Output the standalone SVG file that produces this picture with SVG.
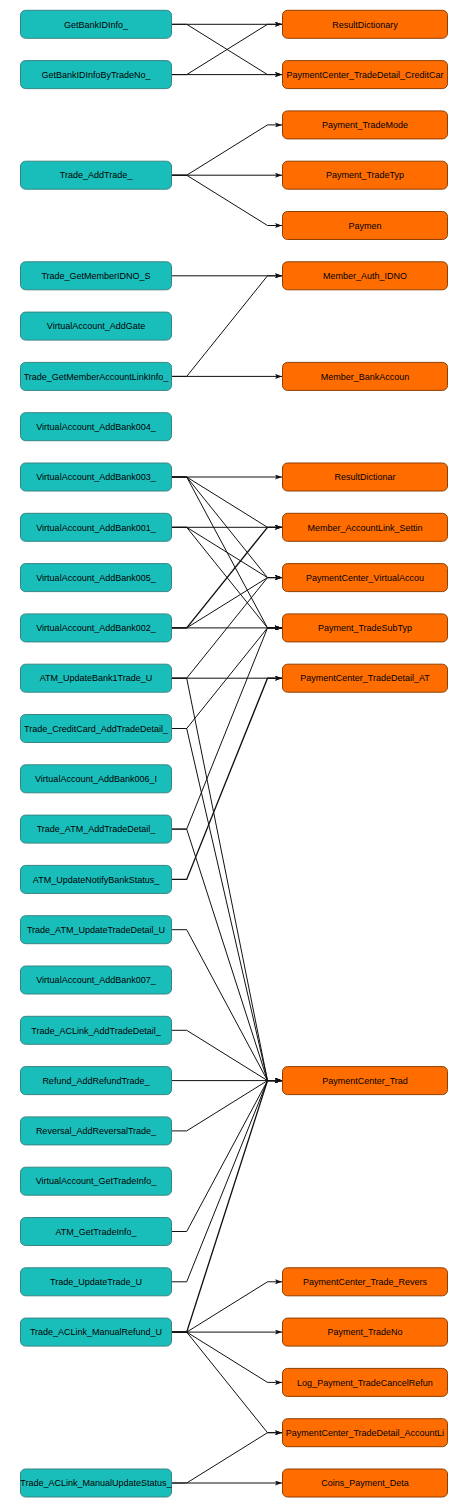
<svg xmlns="http://www.w3.org/2000/svg" width="470" height="1508" viewBox="0 0 470 1508">
<style>
.src rect{fill:#19bebb;stroke:#3a8583;stroke-width:1}
.dst rect{fill:#ff6d00;stroke:#8f3f00;stroke-width:1}
text{font-family:"Liberation Sans",Arial,sans-serif;font-size:9px;fill:#000;text-anchor:middle}
#edges path{fill:none;stroke:#111;stroke-width:1;marker-end:url(#arr)}
#edges path.thick{stroke-width:1.35}
</style>
<defs>
<marker id="arr" markerUnits="userSpaceOnUse" viewBox="0 0 7 5" refX="7" refY="2.5" markerWidth="7" markerHeight="5" orient="auto">
<path d="M0,0 L7,2.5 L0,5 L1.5,2.5 z" fill="#111"/>
</marker>
</defs>
<rect width="470" height="1508" fill="#fff"/>
<g id="edges">
<path d="M171.5,24.3 H282"/>
<path d="M171.5,24.3 H186.7 L267.5,74.6 H282"/>
<path d="M171.5,74.6 H186.7 L267.5,24.3 H282"/>
<path d="M171.5,74.6 H282"/>
<path d="M171.5,175.2 H186.7 L267.5,124.9 H282"/>
<path d="M171.5,175.2 H282"/>
<path d="M171.5,175.2 H186.7 L267.5,225.5 H282"/>
<path d="M171.5,275.8 H282"/>
<path d="M171.5,376.4 H186.7 L267.5,275.8 H282"/>
<path d="M171.5,376.4 H282"/>
<path d="M171.5,477 H282"/>
<path d="M171.5,477 H186.7 L267.5,527.3 H282"/>
<path d="M171.5,477 H186.7 L267.5,577.6 H282"/>
<path d="M171.5,477 H186.7 L267.5,627.9 H282"/>
<path d="M171.5,527.3 H282"/>
<path d="M171.5,527.3 H186.7 L267.5,577.6 H282"/>
<path d="M171.5,527.3 H186.7 L267.5,627.9 H282"/>
<path d="M171.5,627.9 H282"/>
<path class="thick" d="M171.5,627.9 H186.7 L267.5,527.3 H282"/>
<path d="M171.5,627.9 H186.7 L267.5,577.6 H282"/>
<path d="M171.5,678.2 H282"/>
<path d="M171.5,678.2 H186.7 L267.5,577.6 H282"/>
<path d="M171.5,678.2 H186.7 L267.5,1080.6 H282"/>
<path d="M171.5,728.5 H186.7 L267.5,627.9 H282"/>
<path d="M171.5,728.5 H186.7 L267.5,1080.6 H282"/>
<path d="M171.5,829.1 H186.7 L267.5,627.9 H282"/>
<path d="M171.5,829.1 H186.7 L267.5,1080.6 H282"/>
<path class="thick" d="M171.5,879.4 H186.7 L267.5,678.2 H282"/>
<path d="M171.5,929.7 H186.7 L267.5,1080.6 H282"/>
<path d="M171.5,1030.3 H186.7 L267.5,1080.6 H282"/>
<path d="M171.5,1080.6 H282"/>
<path d="M171.5,1130.9 H186.7 L267.5,1080.6 H282"/>
<path d="M171.5,1231.5 H186.7 L267.5,1080.6 H282"/>
<path d="M171.5,1281.8 H186.7 L267.5,1080.6 H282"/>
<path class="thick" d="M171.5,1332.1 H186.7 L267.5,1080.6 H282"/>
<path d="M171.5,1332.1 H186.7 L267.5,1281.8 H282"/>
<path d="M171.5,1332.1 H282"/>
<path d="M171.5,1332.1 H186.7 L267.5,1382.4 H282"/>
<path d="M171.5,1332.1 H186.7 L267.5,1432.7 H282"/>
<path d="M171.5,1483 H186.7 L267.5,1432.7 H282"/>
<path d="M171.5,1483 H282"/>
</g>
<g class="src">
<g id="s0"><rect x="20.5" y="10.3" width="151" height="28" rx="5"/><text x="96" y="27.5">GetBankIDInfo_</text></g>
<g id="s1"><rect x="20.5" y="60.6" width="151" height="28" rx="5"/><text x="96" y="77.8">GetBankIDInfoByTradeNo_</text></g>
<g id="s3"><rect x="20.5" y="161.2" width="151" height="28" rx="5"/><text x="96" y="178.4">Trade_AddTrade_</text></g>
<g id="s5"><rect x="20.5" y="261.8" width="151" height="28" rx="5"/><text x="96" y="279">Trade_GetMemberIDNO_S</text></g>
<g id="s6"><rect x="20.5" y="312.1" width="151" height="28" rx="5"/><text x="96" y="329.3">VirtualAccount_AddGate</text></g>
<g id="s7"><rect x="20.5" y="362.4" width="151" height="28" rx="5"/><text x="96" y="379.6">Trade_GetMemberAccountLinkInfo_</text></g>
<g id="s8"><rect x="20.5" y="412.7" width="151" height="28" rx="5"/><text x="96" y="429.9">VirtualAccount_AddBank004_</text></g>
<g id="s9"><rect x="20.5" y="463" width="151" height="28" rx="5"/><text x="96" y="480.2">VirtualAccount_AddBank003_</text></g>
<g id="s10"><rect x="20.5" y="513.3" width="151" height="28" rx="5"/><text x="96" y="530.5">VirtualAccount_AddBank001_</text></g>
<g id="s11"><rect x="20.5" y="563.6" width="151" height="28" rx="5"/><text x="96" y="580.8">VirtualAccount_AddBank005_</text></g>
<g id="s12"><rect x="20.5" y="613.9" width="151" height="28" rx="5"/><text x="96" y="631.1">VirtualAccount_AddBank002_</text></g>
<g id="s13"><rect x="20.5" y="664.2" width="151" height="28" rx="5"/><text x="96" y="681.4">ATM_UpdateBank1Trade_U</text></g>
<g id="s14"><rect x="20.5" y="714.5" width="151" height="28" rx="5"/><text x="96" y="731.7">Trade_CreditCard_AddTradeDetail_</text></g>
<g id="s15"><rect x="20.5" y="764.8" width="151" height="28" rx="5"/><text x="96" y="782">VirtualAccount_AddBank006_I</text></g>
<g id="s16"><rect x="20.5" y="815.1" width="151" height="28" rx="5"/><text x="96" y="832.3">Trade_ATM_AddTradeDetail_</text></g>
<g id="s17"><rect x="20.5" y="865.4" width="151" height="28" rx="5"/><text x="96" y="882.6">ATM_UpdateNotifyBankStatus_</text></g>
<g id="s18"><rect x="20.5" y="915.7" width="151" height="28" rx="5"/><text x="96" y="932.9">Trade_ATM_UpdateTradeDetail_U</text></g>
<g id="s19"><rect x="20.5" y="966" width="151" height="28" rx="5"/><text x="96" y="983.2">VirtualAccount_AddBank007_</text></g>
<g id="s20"><rect x="20.5" y="1016.3" width="151" height="28" rx="5"/><text x="96" y="1033.5">Trade_ACLink_AddTradeDetail_</text></g>
<g id="s21"><rect x="20.5" y="1066.6" width="151" height="28" rx="5"/><text x="96" y="1083.8">Refund_AddRefundTrade_</text></g>
<g id="s22"><rect x="20.5" y="1116.9" width="151" height="28" rx="5"/><text x="96" y="1134.1">Reversal_AddReversalTrade_</text></g>
<g id="s23"><rect x="20.5" y="1167.2" width="151" height="28" rx="5"/><text x="96" y="1184.4">VirtualAccount_GetTradeInfo_</text></g>
<g id="s24"><rect x="20.5" y="1217.5" width="151" height="28" rx="5"/><text x="96" y="1234.7">ATM_GetTradeInfo_</text></g>
<g id="s25"><rect x="20.5" y="1267.8" width="151" height="28" rx="5"/><text x="96" y="1285">Trade_UpdateTrade_U</text></g>
<g id="s26"><rect x="20.5" y="1318.1" width="151" height="28" rx="5"/><text x="96" y="1335.3">Trade_ACLink_ManualRefund_U</text></g>
<g id="s29"><rect x="20.5" y="1469" width="151" height="28" rx="5"/><text x="96" y="1486.2">Trade_ACLink_ManualUpdateStatus_</text></g>
</g>
<g class="dst">
<g id="t0"><rect x="282.5" y="10.3" width="165" height="28" rx="5"/><text x="365" y="27.5">ResultDictionary</text></g>
<g id="t1"><rect x="282.5" y="60.6" width="165" height="28" rx="5"/><text x="365" y="77.8">PaymentCenter_TradeDetail_CreditCar</text></g>
<g id="t2"><rect x="282.5" y="110.9" width="165" height="28" rx="5"/><text x="365" y="128.1">Payment_TradeMode</text></g>
<g id="t3"><rect x="282.5" y="161.2" width="165" height="28" rx="5"/><text x="365" y="178.4">Payment_TradeTyp</text></g>
<g id="t4"><rect x="282.5" y="211.5" width="165" height="28" rx="5"/><text x="365" y="228.7">Paymen</text></g>
<g id="t5"><rect x="282.5" y="261.8" width="165" height="28" rx="5"/><text x="365" y="279">Member_Auth_IDNO</text></g>
<g id="t7"><rect x="282.5" y="362.4" width="165" height="28" rx="5"/><text x="365" y="379.6">Member_BankAccoun</text></g>
<g id="t9"><rect x="282.5" y="463" width="165" height="28" rx="5"/><text x="365" y="480.2">ResultDictionar</text></g>
<g id="t10"><rect x="282.5" y="513.3" width="165" height="28" rx="5"/><text x="365" y="530.5">Member_AccountLink_Settin</text></g>
<g id="t11"><rect x="282.5" y="563.6" width="165" height="28" rx="5"/><text x="365" y="580.8">PaymentCenter_VirtualAccou</text></g>
<g id="t12"><rect x="282.5" y="613.9" width="165" height="28" rx="5"/><text x="365" y="631.1">Payment_TradeSubTyp</text></g>
<g id="t13"><rect x="282.5" y="664.2" width="165" height="28" rx="5"/><text x="365" y="681.4">PaymentCenter_TradeDetail_AT</text></g>
<g id="t21"><rect x="282.5" y="1066.6" width="165" height="28" rx="5"/><text x="365" y="1083.8">PaymentCenter_Trad</text></g>
<g id="t25"><rect x="282.5" y="1267.8" width="165" height="28" rx="5"/><text x="365" y="1285">PaymentCenter_Trade_Revers</text></g>
<g id="t26"><rect x="282.5" y="1318.1" width="165" height="28" rx="5"/><text x="365" y="1335.3">Payment_TradeNo</text></g>
<g id="t27"><rect x="282.5" y="1368.4" width="165" height="28" rx="5"/><text x="365" y="1385.6">Log_Payment_TradeCancelRefun</text></g>
<g id="t28"><rect x="282.5" y="1418.7" width="165" height="28" rx="5"/><text x="365" y="1435.9">PaymentCenter_TradeDetail_AccountLi</text></g>
<g id="t29"><rect x="282.5" y="1469" width="165" height="28" rx="5"/><text x="365" y="1486.2">Coins_Payment_Deta</text></g>
</g>
</svg>
